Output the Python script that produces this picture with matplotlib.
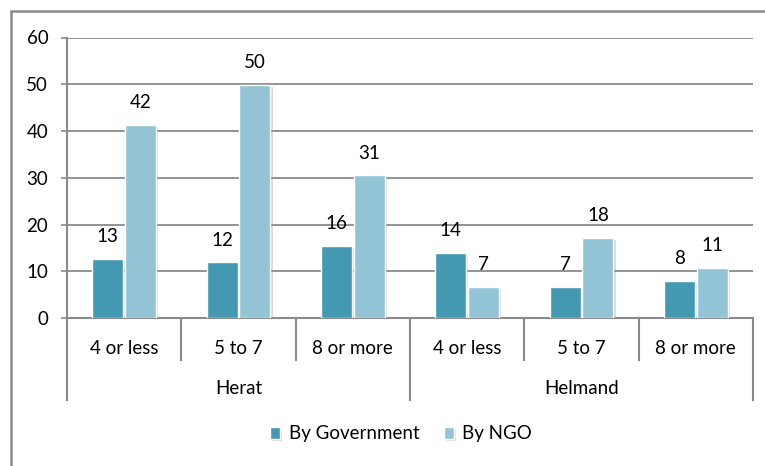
import matplotlib
matplotlib.use("Agg")
import matplotlib.pyplot as plt
from matplotlib.patches import Rectangle
from matplotlib.lines import Line2D
import matplotlib.patheffects as pe
import numpy as np

plt.rcParams['font.family'] = ['Lato', 'DejaVu Sans']

# ---- data ----
groups = ["Herat", "Helmand"]
categories = ["4 or less", "5 to 7", "8 or more", "4 or less", "5 to 7", "8 or more"]
series_names = ["By Government", "By NGO"]
gov_values = [12.6, 11.9, 15.4, 14.0, 6.6, 8.0]
ngo_values = [41.3, 49.9, 30.5, 6.6, 17.2, 10.8]
gov_labels = ["13", "12", "16", "14", "7", "8"]
ngo_labels = ["42", "50", "31", "7", "18", "11"]
yticks = [0, 10, 20, 30, 40, 50, 60]

dark = "#4399B1"
light = "#93C4D6"
grey = "#8a8a8a"
fs = 13.5
tc = "#000000"

W, H = 765, 466
fig = plt.figure(figsize=(W / 100, H / 100), dpi=100)

# outer frame (cropped at right/bottom)
fig.patches.append(Rectangle((10.5 / W, -0.05), 1.1, (H - 10.5) / H + 0.05,
                             transform=fig.transFigure, fill=False,
                             edgecolor=grey, linewidth=1.8, zorder=0))

left, right, bottom, top = 67, 753, 318, 37.5
ax = fig.add_axes([left / W, 1 - bottom / H, (right - left) / W, (bottom - top) / H])

x = np.arange(len(categories))
bw = 0.271
off = 0.144
shadow = [pe.SimplePatchShadow(offset=(1.5, -1.5), shadow_rgbFace="#999999", alpha=0.35), pe.Normal()]
b1 = ax.bar(x - off, gov_values, bw, color=dark, edgecolor="white", linewidth=1.0, zorder=3,
            label=series_names[0])
b2 = ax.bar(x + off, ngo_values, bw, color=light, edgecolor="white", linewidth=1.0, zorder=3,
            label=series_names[1])
for b in list(b1) + list(b2):
    b.set_path_effects(shadow)

for xi, v, lab in zip(x - off, gov_values, gov_labels):
    ax.annotate(lab, (xi, v), xytext=(0, 16), textcoords="offset points",
                ha="center", va="center", fontsize=fs, color=tc)
for xi, v, lab in zip(x + off, ngo_values, ngo_labels):
    ax.annotate(lab, (xi, v), xytext=(0, 16), textcoords="offset points",
                ha="center", va="center", fontsize=fs, color=tc)

ax.set_xlim(-0.5, len(categories) - 0.5)
ax.set_ylim(0, 60)
ax.set_yticks(yticks)
ax.set_yticklabels([str(t) for t in yticks], fontsize=fs, color=tc)
ax.tick_params(axis="y", length=4.5, width=1.2, color=grey, pad=9)
ax.set_xticks([])
ax.yaxis.grid(True, color=grey, linewidth=1.3, zorder=1)
ax.set_axisbelow(True)
for s in ["top", "right"]:
    ax.spines[s].set_visible(False)
for s in ["left", "bottom"]:
    ax.spines[s].set_color(grey)
    ax.spines[s].set_linewidth(1.5)

ph = bottom - top
def ay(px):
    return (bottom - px) / ph

trans = ax.get_xaxis_transform()
# category labels
for xi, c in zip(x, categories):
    ax.text(xi, ay(348), c, transform=trans, ha="center", va="center", fontsize=fs, color=tc)
# group labels
n_per = len(categories) // len(groups)
for gi, g in enumerate(groups):
    cx = gi * n_per + (n_per - 1) / 2
    ax.text(cx, ay(388), g, transform=trans, ha="center", va="center", fontsize=fs, color=tc)
# divider lines
for k in range(len(categories) + 1):
    xb = k - 0.5
    y_end = ay(400) if k % n_per == 0 else ay(360)
    ax.add_line(Line2D([xb, xb], [0, y_end], transform=trans, color=grey, linewidth=1.5,
                       clip_on=False))

leg = fig.legend(handles=[b1, b2], labels=series_names, loc="center",
                 bbox_to_anchor=(401 / W, 1 - 434 / H), ncol=2, frameon=False,
                 fontsize=fs, handlelength=0.55, handleheight=0.55, handletextpad=0.45,
                 columnspacing=1.3)

fig.savefig("out.png", dpi=100)
